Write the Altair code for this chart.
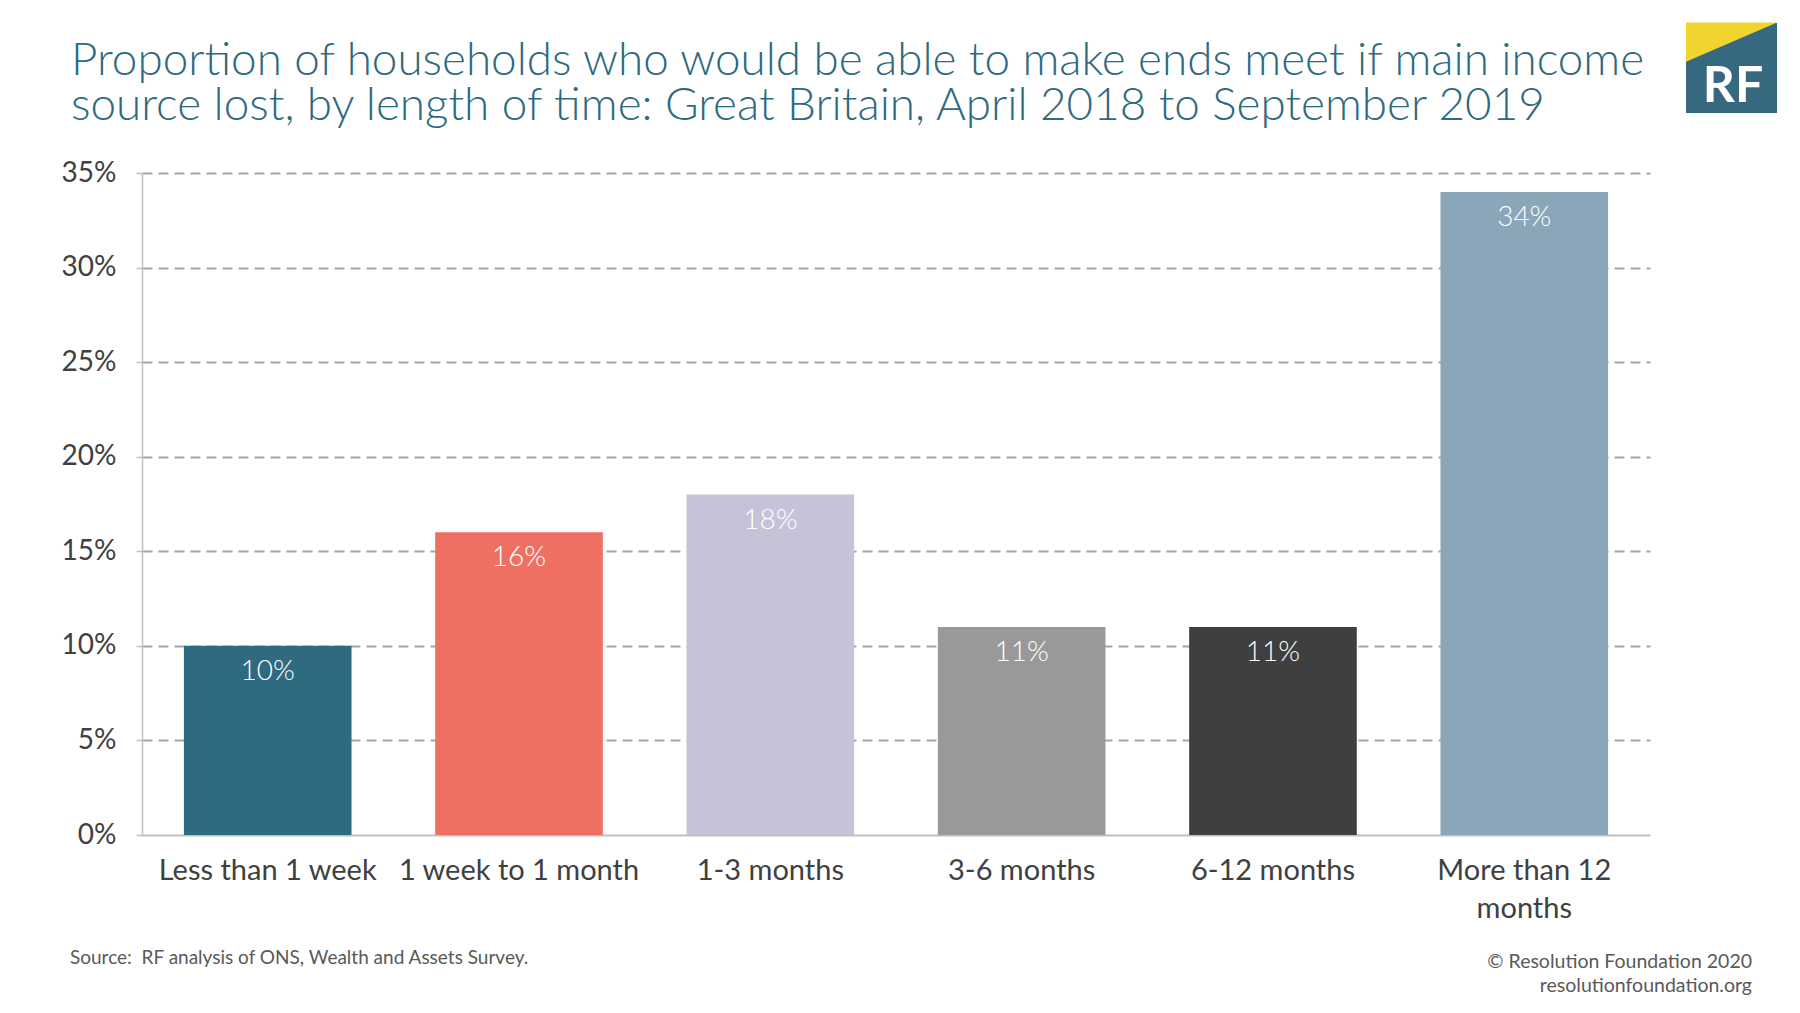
import altair as alt
import pandas as pd

categories = ["Less than 1 week", "1 week to 1 month", "1-3 months",
              "3-6 months", "6-12 months", "More than 12 months"]
values = [10, 16, 18, 11, 11, 34]
colors = ["#2E6A80", "#EE7062", "#C6C3D9", "#999999", "#3F3F3F", "#8AA6B8"]
y_ticks = [0, 5, 10, 15, 20, 25, 30, 35]

title_lines = ["Proportion of households who would be able to make ends meet if main income",
               "source lost, by length of time: Great Britain, April 2018 to September 2019"]
source_text = "Source:\u00a0 RF analysis of ONS, Wealth and Assets Survey."
credit_lines = ["© Resolution Foundation 2020", "resolutionfoundation.org"]

FONT = "Lato"

df = pd.DataFrame({"category": categories, "value": values,
                   "label": [f"{v}%" for v in values]})
one = pd.DataFrame({"k": [0]})

x_enc = alt.X("category:N", sort=categories, title=None,
              scale=alt.Scale(paddingInner=0.333, paddingOuter=0.1667),
              axis=alt.Axis(labelAngle=0, ticks=False, domainColor="#BFBFBF",
                            domainWidth=2, labelFontSize=29, labelFont=FONT,
                            labelColor="#404040", labelPadding=21, labelLineHeight=38,
                            labelBaseline="top", labelLimit=500,
                            labelExpr="datum.label == 'More than 12 months' ? ['More than 12', 'months'] : datum.label"))
y_enc = alt.Y("value:Q", title=None,
              scale=alt.Scale(domain=[0, 35], nice=False),
              axis=alt.Axis(values=y_ticks, labelExpr="datum.value + '%'",
                            labelFontSize=28, labelFont=FONT, labelColor="#404040",
                            labelPadding=20, tickSize=6, tickColor="#BFBFBF",
                            tickWidth=1.5, domainColor="#BFBFBF", domainWidth=1.5,
                            grid=True, gridColor="#A6A6A6", gridWidth=2,
                            gridDash=[10, 6],
                            gridOpacity=alt.condition("datum.value === 0", alt.value(0), alt.value(1))))

bars = alt.Chart(df).mark_bar().encode(
    x=x_enc, y=y_enc,
    color=alt.Color("category:N", scale=alt.Scale(domain=categories, range=colors), legend=None),
)

labels = alt.Chart(df).mark_text(dy=26, baseline="middle", color="white",
                                 fontSize=28, font=FONT, fontWeight=300).encode(
    x=alt.X("category:N", sort=categories), y="value:Q", text="label:N")

def txt(s, x, y, size, color, align="left", baseline="middle", weight="normal"):
    return alt.Chart(one).mark_text(align=align, baseline=baseline, fontSize=size,
                                    font=FONT, color=color, fontWeight=weight).encode(
        x=alt.value(x), y=alt.value(y), text=alt.value(s))

title1 = txt(title_lines[0], -71, -98, 45.8, "#2E6A80", baseline="alphabetic", weight=300)
title2 = txt(title_lines[1], -71, -53, 45.8, "#2E6A80", baseline="alphabetic", weight=300)
source = txt(source_text, -72, 785, 19, "#595959")
credit1 = txt(credit_lines[0], 1610, 789, 19.5, "#595959", align="right")
credit2 = txt(credit_lines[1], 1610, 813, 19.5, "#595959", align="right")

logo_bg = alt.Chart(one).mark_rect(color="#36697F").encode(
    x=alt.value(1544), x2=alt.value(1635), y=alt.value(-150), y2=alt.value(-60))
logo_tri = alt.Chart(one).mark_point(shape="M -1 -1 L 1 -1 L -1 -0.14 Z", filled=True,
                                     size=8281, color="#F2D42E", opacity=1,
                                     strokeWidth=0).encode(
    x=alt.value(1589.5), y=alt.value(-105))
logo_txt = txt("RF", 1591, -71, 50, "white", align="center", baseline="alphabetic", weight="bold")

chart = alt.layer(bars, labels, title1, title2, source, credit1, credit2,
                  logo_bg, logo_tri, logo_txt).properties(
    width=1508, height=662,
    autosize=alt.AutoSizeParams(type="none"),
    padding={"left": 134, "top": 165, "right": 138, "bottom": 165},
).configure_view(stroke=None)

chart.save("out.html", embed_options={"renderer": "svg", "actions": False})
